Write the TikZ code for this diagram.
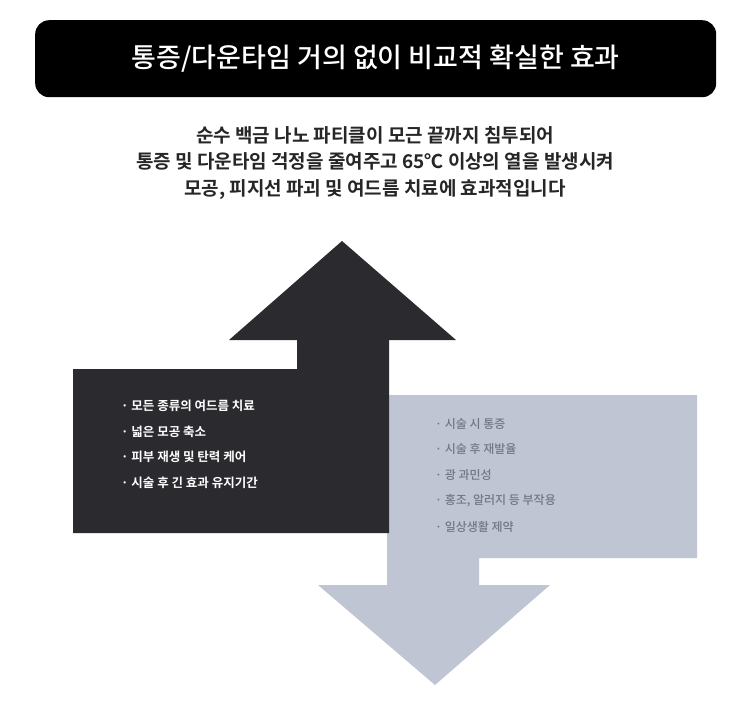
\documentclass[tikz,border=0pt]{standalone}
\usepackage{fontspec}
\setmainfont{Noto Sans CJK KR}
\newfontfamily\kb{Noto Sans CJK KR Bold}
\newfontfamily\km{Noto Sans CJK KR Medium}
\definecolor{darkbox}{HTML}{2B2B2F}
\definecolor{lightbox}{HTML}{BFC5D3}
\definecolor{lighttxt}{HTML}{727784}
\begin{document}
\begin{tikzpicture}[x=1pt,y=-1pt,
  ltxt/.style={anchor=west,text=white,font=\kb\fontsize{12.5}{14}\selectfont,inner sep=0},
  rtxt/.style={anchor=west,text=lighttxt,font=\km\fontsize{12}{14}\selectfont,inner sep=0}]
\useasboundingbox (0,0) rectangle (750,717);
\fill[white] (0,0) rectangle (750,717);
\node[fill=black,rounded corners=14pt,minimum width=681pt,minimum height=77pt,anchor=north west,inner sep=0] (title) at (35,20) {};
\node[text=white,font=\km\fontsize{27}{30}\selectfont] (tt) at (title.center) {통증/다운타임 거의 없이 비교적 확실한 효과};
\node[align=center,font=\kb\fontsize{19}{26.5}\selectfont,text=black!85] (sub) at (375,163) {순수 백금 나노 파티클이 모근 끝까지 침투되어\\통증 및 다운타임 걱정을 줄여주고 65℃ 이상의 열을 발생시켜\\모공, 피지선 파괴 및 여드름 치료에 효과적입니다};
% light down arrow
\fill[lightbox] (387,395) -- (697,395) -- (697,558) -- (479,558) -- (479,585) -- (550,585) -- (435,685) -- (318,585) -- (387,585) -- cycle;
% dark up arrow
\fill[darkbox] (342,241) -- (456,340) -- (389,340) -- (389,533) -- (73,533) -- (73,369) -- (297,369) -- (297,340) -- (229,340) -- cycle;
\node[ltxt] (l1) at (121,406) {· 모든 종류의 여드름 치료};
\node[ltxt] (l2) at (121,432) {· 넓은 모공 축소};
\node[ltxt] (l3) at (121,457) {· 피부 재생 및 탄력 케어};
\node[ltxt] (l4) at (121,483) {· 시술 후 긴 효과 유지기간};
\node[rtxt] (r1) at (435,424) {· 시술 시 통증};
\node[rtxt] (r2) at (435,449) {· 시술 후 재발율};
\node[rtxt] (r3) at (435,475) {· 광 과민성};
\node[rtxt] (r4) at (435,501) {· 홍조, 알러지 등 부작용};
\node[rtxt] (r5) at (435,527) {· 일상생활 제약};
\end{tikzpicture}
\end{document}
